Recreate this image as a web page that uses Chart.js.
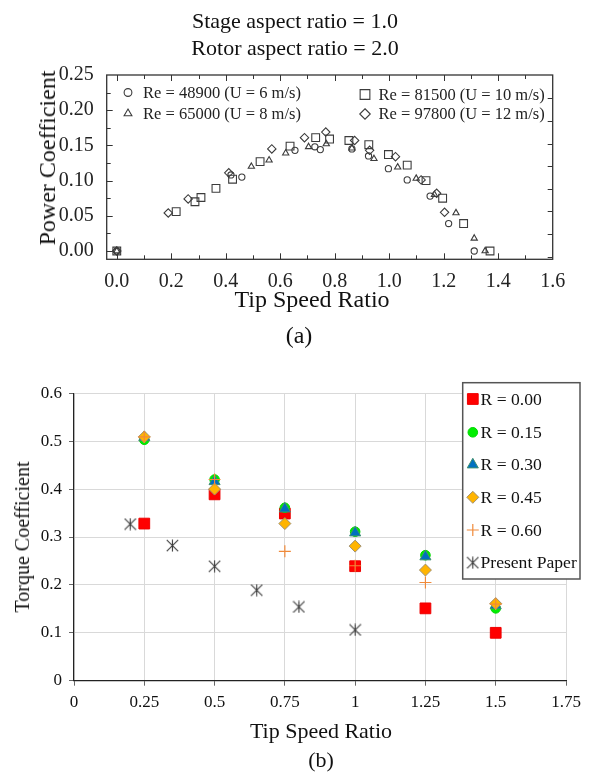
<!DOCTYPE html>
<html><head><meta charset="utf-8">
<script src="https://cdn.jsdelivr.net/npm/chart.js"></script>
<style>
html,body{margin:0;padding:0;background:#fff;}
body{width:592px;height:773px;position:relative;overflow:hidden;font-family:'Liberation Serif','Times New Roman',serif;color:#111;}
canvas{position:absolute;left:0;}
.t{position:absolute;transform:translate(-50%,-50%);white-space:nowrap;line-height:1;}
.v{position:absolute;transform:translate(-50%,-50%) rotate(-90deg);white-space:nowrap;line-height:1;}
</style></head><body>
<canvas id="ca" width="592" height="300" style="top:0"></canvas>
<canvas id="cb" width="592" height="360" style="top:360px"></canvas>
<div class="t" style="left:295px;top:21px;font-size:22px">Stage aspect ratio = 1.0</div>
<div class="t" style="left:295px;top:48px;font-size:22px">Rotor aspect ratio = 2.0</div>
<div class="v" style="left:47px;top:158px;font-size:24px">Power Coefficient</div>
<div class="t" style="left:312px;top:299px;font-size:24px">Tip Speed Ratio</div>
<div class="t" style="left:299px;top:335px;font-size:24px">(a)</div>
<div class="v" style="left:22px;top:537px;font-size:20px">Torque Coefficient</div>
<div class="t" style="left:321px;top:731px;font-size:22px">Tip Speed Ratio</div>
<div class="t" style="left:321px;top:760px;font-size:22px">(b)</div>
<script>
// ---------- Data: chart (a) ----------
const re48900TSR = [0.00, 0.419, 0.459, 0.654, 0.727, 0.747, 0.863, 0.924, 0.997, 1.066, 1.150, 1.218, 1.312];
const re48900CP  = [0.000, 0.108, 0.105, 0.143, 0.148, 0.144, 0.145, 0.135, 0.117, 0.101, 0.078, 0.039, 0.000];
const re65000TSR = [0.00, 0.494, 0.559, 0.620, 0.704, 0.769, 0.863, 0.944, 1.031, 1.099, 1.166, 1.245, 1.312, 1.352];
const re65000CP  = [0.000, 0.120, 0.129, 0.139, 0.148, 0.152, 0.146, 0.131, 0.119, 0.103, 0.080, 0.054, 0.018, 0.000];
const re81500TSR = [0.00, 0.218, 0.287, 0.309, 0.364, 0.425, 0.526, 0.636, 0.730, 0.781, 0.852, 0.925, 0.997, 1.066, 1.135, 1.196, 1.273, 1.370];
const re81500CP  = [0.000, 0.056, 0.070, 0.076, 0.089, 0.102, 0.127, 0.149, 0.161, 0.159, 0.157, 0.151, 0.137, 0.122, 0.100, 0.075, 0.039, 0.000];
const re97800TSR = [0.00, 0.189, 0.262, 0.411, 0.569, 0.689, 0.767, 0.873, 0.928, 1.023, 1.117, 1.174, 1.203];
const re97800CP  = [0.000, 0.054, 0.074, 0.111, 0.145, 0.161, 0.169, 0.157, 0.143, 0.134, 0.101, 0.082, 0.055];
const seriesLabelsA = ['Re = 48900 (U = 6 m/s)', 'Re = 65000 (U = 8 m/s)', 'Re = 81500 (U = 10 m/s)', 'Re = 97800 (U = 12 m/s)'];
const tsrMajorA = [0.0, 0.2, 0.4, 0.6, 0.8, 1.0, 1.2, 1.4, 1.6];
const tsrMinorA = [0.1, 0.3, 0.5, 0.7, 0.9, 1.1, 1.3, 1.5];
const cpMajorA  = [0.00, 0.05, 0.10, 0.15, 0.20, 0.25];
const cpMinorA  = [0.025, 0.075, 0.125, 0.175, 0.225];
const rightTicksA = [0, 1, 2, 3, 4, 5, 6, 7];

// ---------- Data: chart (b) ----------
const tsrB = [0.25, 0.5, 0.75, 1.0, 1.25, 1.5];
const ctR000 = [0.328, 0.389, 0.349, 0.239, 0.151, 0.100];
const ctR015 = [0.503, 0.420, 0.361, 0.311, 0.262, 0.151];
const ctR030 = [0.508, 0.416, 0.359, 0.309, 0.259, 0.157];
const ctR045 = [0.509, 0.400, 0.328, 0.281, 0.231, 0.161];
const ctR060 = [0.509, 0.420, 0.270, 0.240, 0.205, 0.160];
const presentTSR = [0.20, 0.35, 0.50, 0.65, 0.80, 1.00];
const presentCt  = [0.327, 0.282, 0.239, 0.189, 0.154, 0.106];
const seriesLabelsB = ['R = 0.00', 'R = 0.15', 'R = 0.30', 'R = 0.45', 'R = 0.60', 'Present Paper'];
const tsrTicksB = [0, 0.25, 0.5, 0.75, 1, 1.25, 1.5, 1.75];
const ctTicksB  = [0, 0.1, 0.2, 0.3, 0.4, 0.5, 0.6];

const SERIF = "'Liberation Serif', 'Times New Roman', serif";
const zip = (xs, ys) => xs.map((x, i) => ({x: x, y: ys[i]}));

function drawMarker(ctx, style, x, y, r, fill, stroke, lw) {
  ctx.save();
  if (style instanceof HTMLCanvasElement) {
    ctx.drawImage(style, x - style.width / 2, y - style.height / 2);
    ctx.restore(); return;
  }
  ctx.beginPath(); ctx.lineWidth = lw; ctx.strokeStyle = stroke; ctx.fillStyle = fill;
  let doFill = true;
  switch (style) {
    case 'circle': ctx.arc(x, y, r, 0, 2 * Math.PI); break;
    case 'rect': { const s = r * Math.SQRT1_2; ctx.rect(x - s, y - s, 2 * s, 2 * s); break; }
    case 'rectRot': ctx.moveTo(x, y - r); ctx.lineTo(x + r, y); ctx.lineTo(x, y + r); ctx.lineTo(x - r, y); ctx.closePath(); break;
    case 'triangle': {
      let a = 0;
      ctx.moveTo(x + Math.sin(a) * r, y - Math.cos(a) * r); a += 2 * Math.PI / 3;
      ctx.lineTo(x + Math.sin(a) * r, y - Math.cos(a) * r); a += 2 * Math.PI / 3;
      ctx.lineTo(x + Math.sin(a) * r, y - Math.cos(a) * r); ctx.closePath(); break;
    }
    case 'cross': ctx.moveTo(x, y - r); ctx.lineTo(x, y + r); ctx.moveTo(x - r, y); ctx.lineTo(x + r, y); doFill = false; break;
  }
  if (doFill) ctx.fill();
  if (lw > 0) ctx.stroke();
  ctx.restore();
}

function makeAsterisk(size, color, lw) {
  const c = document.createElement('canvas'); c.width = size; c.height = size;
  const g = c.getContext('2d'); g.strokeStyle = color; g.lineWidth = lw;
  const m = size / 2, r = size / 2 - 0.8;
  g.beginPath();
  g.moveTo(m - r, m - r); g.lineTo(m + r, m + r);
  g.moveTo(m - r, m + r); g.lineTo(m + r, m - r);
  g.moveTo(m, m - r - 0.3); g.lineTo(m, m + r + 0.3);
  g.stroke();
  return c;
}

// ---------- Chart (a) ----------
const A_BOTTOM = 259.3, A_LEFT = 106.7, A_RIGHT = 552.7, A_TOP = 75, A_H = 300;
const markA = '#3c3c3c';
const stylesA = [
  {pointStyle: 'circle', pointRadius: 3.1},
  {pointStyle: 'triangle', pointRadius: 3.6},
  {pointStyle: 'rect', pointRadius: 5.5},
  {pointStyle: 'rectRot', pointRadius: 4.2}
];
const dataA = [zip(re48900TSR, re48900CP), zip(re65000TSR, re65000CP), zip(re81500TSR, re81500CP), zip(re97800TSR, re97800CP)];

const frameA = {
  id: 'frameA',
  afterDraw(chart) {
    const {ctx, chartArea: a, scales} = chart;
    const x = scales.x, y = scales.y, y2 = scales.y2;
    ctx.save();
    ctx.strokeStyle = '#333'; ctx.lineWidth = 1.3;
    ctx.strokeRect(a.left, a.top, a.right - a.left, a.bottom - a.top);
    ctx.lineWidth = 1; ctx.strokeStyle = '#333';
    ctx.beginPath();
    const xt = (v, len) => { const p = Math.round(x.getPixelForValue(v)) + 0.5; if (p > a.right - 2) return;
      ctx.moveTo(p, a.bottom); ctx.lineTo(p, a.bottom - len); ctx.moveTo(p, a.top); ctx.lineTo(p, a.top + len); };
    tsrMajorA.forEach(v => xt(v, 6)); tsrMinorA.forEach(v => xt(v, 4));
    const yt = (v, len) => { const p = Math.round(y.getPixelForValue(v)) + 0.5; if (p < a.top + 2) return;
      ctx.moveTo(a.left, p); ctx.lineTo(a.left + len, p); };
    cpMajorA.forEach(v => yt(v, 6)); cpMinorA.forEach(v => yt(v, 4));
    rightTicksA.forEach(v => { const p = Math.round(y2.getPixelForValue(v)) + 0.5; ctx.moveTo(a.right, p); ctx.lineTo(a.right - 5, p); });
    ctx.stroke();
    // legend
    const pos = [[128, 92.5, 143], [128, 113.5, 143], [365, 94.5, 378.5], [365, 114, 378.5]];
    ctx.font = '16.5px ' + SERIF; ctx.fillStyle = '#222'; ctx.textBaseline = 'middle'; ctx.textAlign = 'left';
    chart.data.datasets.forEach((ds, i) => {
      const [mx, my, tx] = pos[i];
      drawMarker(ctx, ds.pointStyle, mx, my, ds.pointRadius * 1.25, 'rgba(0,0,0,0)', markA, 1.1);
      ctx.fillText(ds.label, tx, my + 1);
    });
    ctx.restore();
  }
};

new Chart(document.getElementById('ca'), {
  type: 'scatter',
  data: {
    datasets: dataA.map((d, i) => ({
      label: seriesLabelsA[i], data: d,
      pointStyle: stylesA[i].pointStyle, pointRadius: stylesA[i].pointRadius,
      pointBackgroundColor: 'rgba(0,0,0,0)', pointBorderColor: markA, pointBorderWidth: 1.1,
      backgroundColor: 'rgba(0,0,0,0)', borderColor: markA
    }))
  },
  options: {
    responsive: false, animation: false, devicePixelRatio: 1,
    layout: {padding: {top: A_TOP, left: 0, right: 0, bottom: 0}},
    plugins: {legend: {display: false}, title: {display: false}, tooltip: {enabled: false}},
    scales: {
      x: {
        type: 'linear', position: 'bottom', min: -0.037, max: 1.6,
        afterBuildTicks: s => { s.ticks = tsrMajorA.map(v => ({value: v})); },
        afterFit: s => { s.height = A_H - A_BOTTOM; },
        grid: {display: false}, border: {display: false},
        ticks: {font: {family: SERIF, size: 20}, color: '#222', padding: 2, maxRotation: 0, autoSkip: false,
                callback: v => Number(v).toFixed(1)}
      },
      y: {
        type: 'linear', position: 'left', min: -0.0118, max: 0.25,
        afterBuildTicks: s => { s.ticks = cpMajorA.map(v => ({value: v})); },
        afterFit: s => { s.width = A_LEFT; },
        grid: {display: false}, border: {display: false},
        ticks: {font: {family: SERIF, size: 20}, color: '#222', padding: 5, callback: v => Number(v).toFixed(2)}
      },
      y2: {
        type: 'linear', position: 'right', min: -0.115, max: 8.03,
        afterBuildTicks: s => { s.ticks = rightTicksA.map(v => ({value: v})); },
        afterFit: s => { s.width = 592 - A_RIGHT; },
        grid: {display: false}, border: {display: false}, ticks: {display: false}
      }
    }
  },
  plugins: [frameA]
});

// ---------- Chart (b) ----------
const B_TOP = 33.3, B_BOTTOM = 320.7, B_LEFT = 74, B_RIGHT = 566, B_H = 360;
const asterisk = makeAsterisk(13, '#3a3a3a', 1.1);
const stylesB = [
  {pointStyle: 'rect', pointRadius: 7.6, bg: '#ff0000', bd: '#ee0000', bw: 1},
  {pointStyle: 'circle', pointRadius: 4.8, bg: '#00ee00', bd: '#00d800', bw: 1},
  {pointStyle: 'triangle', pointRadius: 6.4, bg: '#0070c0', bd: '#3f8f70', bw: 1},
  {pointStyle: 'rectRot', pointRadius: 6.0, bg: '#ffb400', bd: '#a09070', bw: 1},
  {pointStyle: 'cross', pointRadius: 6.0, bg: '#f79646', bd: '#f08a3a', bw: 1.2},
  {pointStyle: asterisk, pointRadius: 6.0, bg: '#3a3a3a', bd: '#3a3a3a', bw: 1.1}
];
const dataB = [zip(tsrB, ctR000), zip(tsrB, ctR015), zip(tsrB, ctR030), zip(tsrB, ctR045), zip(tsrB, ctR060), zip(presentTSR, presentCt)];

const legendB = {
  id: 'legendB',
  afterDraw(chart) {
    const ctx = chart.ctx;
    ctx.save();
    const bx = 462.7, by = 22.7, bw = 117.3, bh = 196.3;
    ctx.fillStyle = '#fff'; ctx.fillRect(bx, by, bw, bh);
    ctx.strokeStyle = '#555'; ctx.lineWidth = 1.5; ctx.strokeRect(bx, by, bw, bh);
    ctx.font = '17.6px ' + SERIF; ctx.fillStyle = '#111'; ctx.textBaseline = 'middle'; ctx.textAlign = 'left';
    const rows = [39, 72.3, 104.7, 137.3, 170, 202.7];
    chart.data.datasets.forEach((ds, i) => {
      drawMarker(ctx, ds.pointStyle, 472.8, rows[i], ds.pointRadius, ds.pointBackgroundColor, ds.pointBorderColor, ds.pointBorderWidth);
      ctx.fillText(ds.label, 480.5, rows[i] + 1);
    });
    ctx.restore();
  }
};

new Chart(document.getElementById('cb'), {
  type: 'scatter',
  data: {
    datasets: dataB.map((d, i) => ({
      label: seriesLabelsB[i], data: d, order: dataB.length - i,
      pointStyle: stylesB[i].pointStyle, pointRadius: stylesB[i].pointRadius,
      pointBackgroundColor: stylesB[i].bg, pointBorderColor: stylesB[i].bd, pointBorderWidth: stylesB[i].bw,
      backgroundColor: stylesB[i].bg, borderColor: stylesB[i].bd
    }))
  },
  options: {
    responsive: false, animation: false, devicePixelRatio: 1,
    layout: {padding: {top: B_TOP, left: 0, right: 592 - B_RIGHT, bottom: 0}},
    plugins: {legend: {display: false}, title: {display: false}, tooltip: {enabled: false}},
    scales: {
      x: {
        type: 'linear', position: 'bottom', min: 0, max: 1.75,
        afterBuildTicks: s => { s.ticks = tsrTicksB.map(v => ({value: v})); },
        afterFit: s => { s.height = B_H - B_BOTTOM; },
        grid: {color: '#d9d9d9', lineWidth: 1, drawTicks: true, tickLength: 5, tickColor: '#666'},
        border: {color: '#222', width: 1.2},
        ticks: {font: {family: SERIF, size: 17}, color: '#111', padding: 7, maxRotation: 0, autoSkip: false,
                callback: v => String(v)}
      },
      y: {
        type: 'linear', position: 'left', min: 0, max: 0.6,
        afterBuildTicks: s => { s.ticks = ctTicksB.map(v => ({value: v})); },
        afterFit: s => { s.width = B_LEFT; },
        grid: {color: '#d9d9d9', lineWidth: 1, drawTicks: true, tickLength: 5, tickColor: '#666'},
        border: {color: '#222', width: 1.2},
        ticks: {font: {family: SERIF, size: 17}, color: '#111', padding: 7,
                callback: v => (v === 0 ? '0' : Number(v).toFixed(1))}
      }
    }
  },
  plugins: [legendB]
});
</script>
</body></html>
